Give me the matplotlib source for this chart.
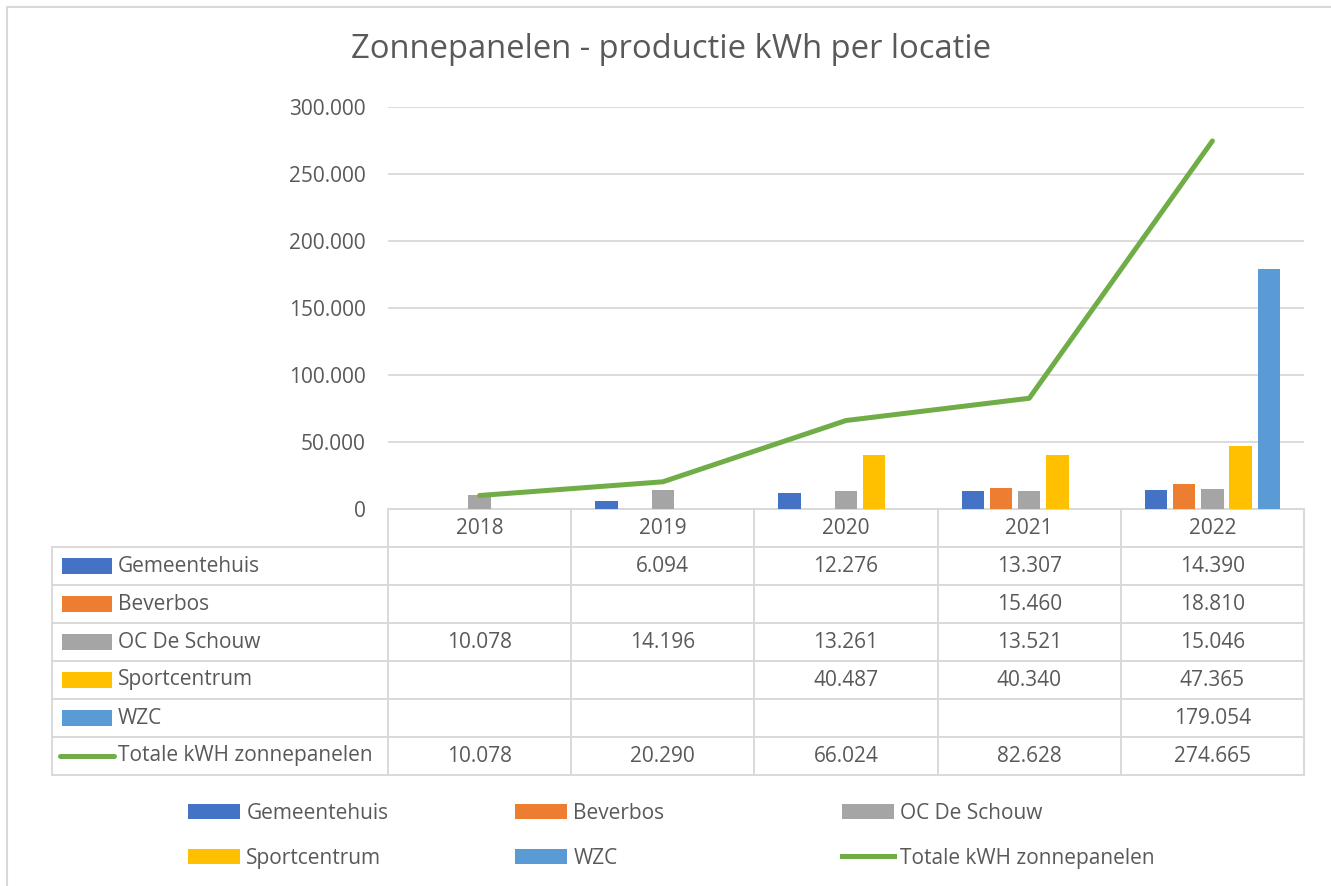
import numpy as np
import matplotlib
matplotlib.use('Agg')
from matplotlib import pyplot as plt
from matplotlib.patches import Rectangle, Patch
from matplotlib.lines import Line2D

plt.rcParams['font.family'] = ['Open Sans', 'DejaVu Sans']

years = ['2018', '2019', '2020', '2021', '2022']
gemeentehuis = [np.nan, 6094, 12276, 13307, 14390]
beverbos = [np.nan, np.nan, np.nan, 15460, 18810]
oc_de_schouw = [10078, 14196, 13261, 13521, 15046]
sportcentrum = [np.nan, np.nan, 40487, 40340, 47365]
wzc = [np.nan, np.nan, np.nan, np.nan, 179054]
totaal = [10078, 20290, 66024, 82628, 274665]

bar_series = [
    ('Gemeentehuis', gemeentehuis, '#4472C4'),
    ('Beverbos', beverbos, '#ED7D31'),
    ('OC De Schouw', oc_de_schouw, '#A5A5A5'),
    ('Sportcentrum', sportcentrum, '#FFC000'),
    ('WZC', wzc, '#5B9BD5'),
]
line_label = 'Totale kWH zonnepanelen'
line_color = '#70AD47'
text_color = '#595959'
grid_color = '#D9D9D9'

W, H = 1331, 886
AX_W, AX_H = 916, 402


def fmt(v):
    if v is None or np.isnan(v):
        return ''
    return f'{v:,.0f}'.replace(',', '.')


fig = plt.figure(figsize=(W / 100, H / 100), dpi=100)
ax = fig.add_axes([388 / W, 1 - 509 / H, AX_W / W, AX_H / H])

# bars
x = np.arange(len(years))
step = 0.154
width = 0.123
for i, (name, vals, color) in enumerate(bar_series):
    ax.bar(x + (i - 2) * step, vals, width=width, color=color, zorder=2)
ax.plot(x, totaal, color=line_color, linewidth=3.6, zorder=3,
        solid_capstyle='round', solid_joinstyle='round')

ax.set_xlim(-0.5, len(years) - 0.5)
ax.set_ylim(0, 300000)
yt = np.arange(0, 300001, 50000)
ax.set_yticks(yt)
ax.set_yticklabels([fmt(v) if v else '0' for v in yt])
ax.set_xticks([])
ax.yaxis.grid(True, color=grid_color, linewidth=1.3)
ax.set_axisbelow(True)
for s in ax.spines.values():
    s.set_visible(False)
ax.tick_params(axis='y', length=0, labelsize=15, pad=16, colors=text_color)

# data table under the chart (bbox covers the data cells, labels hang left)
row_labels = [name for name, _, _ in bar_series] + [line_label]
cell_text = [[fmt(v) for v in vals] for _, vals, _ in bar_series]
cell_text.append([fmt(v) for v in totaal])

n_rows = len(row_labels) + 1
row_h = 38 / AX_H
tab_h = n_rows * row_h
lab_w = 336 / AX_W
col_w = 1 / len(years)
tbl = ax.table(cellText=cell_text, colLabels=years, cellLoc='center',
               bbox=[0, -tab_h, 1, tab_h])
for r, label in enumerate(row_labels, start=1):
    cell = tbl.add_cell(r, -1, width=lab_w, height=row_h, text=label, loc='left')
    cell.PAD = 66 / 336
tbl.auto_set_font_size(False)
tbl.set_fontsize(15)
for (r, c), cell in tbl.get_celld().items():
    cell.set_edgecolor(grid_color)
    cell.set_linewidth(1.4)
    cell.set_height(row_h)
    cell.get_text().set_color(text_color)
    cell.set_width(lab_w if c == -1 else col_w)

# legend keys inside the table
kx0 = (62 - 388) / AX_W
kx1 = (112 - 388) / AX_W
kh = 16 / AX_H
for r, (name, _, color) in enumerate(bar_series, start=1):
    yc = -(r + 0.5) * row_h
    ax.add_patch(Rectangle((kx0, yc - kh / 2), kx1 - kx0, kh, facecolor=color,
                           transform=ax.transAxes, clip_on=False, zorder=5))
yc = -(n_rows - 0.5) * row_h
ax.plot([(60 - 388) / AX_W, (114 - 388) / AX_W], [yc, yc], color=line_color,
        linewidth=3.6, solid_capstyle='round', transform=ax.transAxes,
        clip_on=False, zorder=5)

# title
fig.text(671 / W, 1 - 50 / H, 'Zonnepanelen - productie kWh per locatie',
         ha='center', va='center', fontsize=23.6, color=text_color)

# bottom legend, three columns
handles = [Patch(facecolor=c) for _, _, c in bar_series]
handles.append(Line2D([], [], color=line_color, linewidth=3.6))
labels = row_labels
columns = [(188, [0, 3]), (515, [1, 4]), (842, [2, 5])]
for left, idx in columns:
    fig.legend([handles[i] for i in idx], [labels[i] for i in idx],
               loc='upper left', bbox_to_anchor=(left / W, 1 - 803 / H),
               frameon=False, borderpad=0, borderaxespad=0,
               handlelength=2.5, handletextpad=0.3, labelspacing=1.13,
               fontsize=15, labelcolor=text_color)

# chart border
fig.patches.append(Rectangle((7 / W, -1), 2, 2 - 7 / H, transform=fig.transFigure,
                             facecolor='none', edgecolor=grid_color, linewidth=1.5))

fig.savefig('out.png', dpi=100)
